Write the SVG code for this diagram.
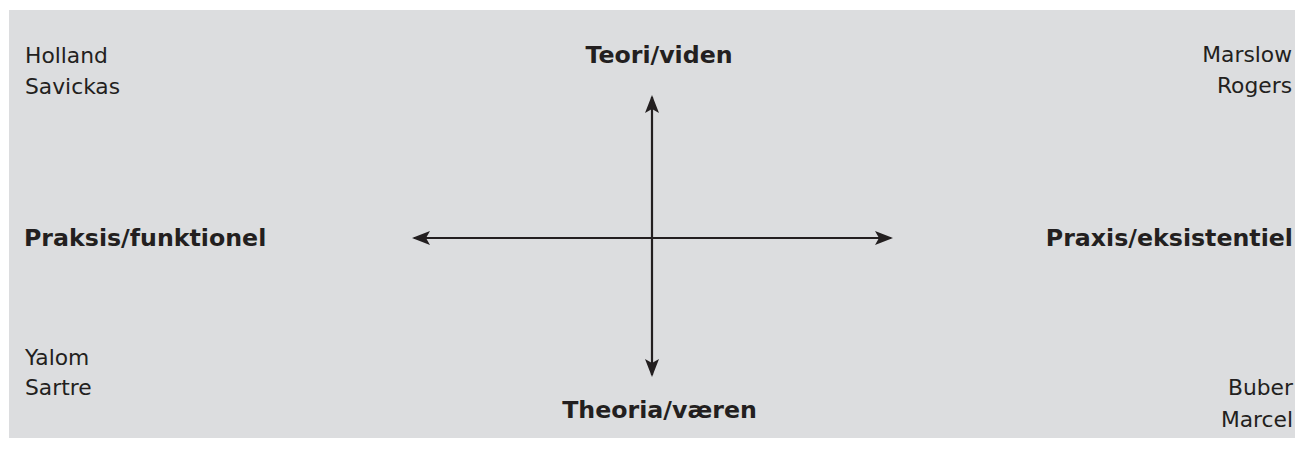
<svg xmlns="http://www.w3.org/2000/svg" width="1295" height="450" viewBox="0 0 1295 450">
<style>
.n{font-family:"DejaVu Sans","Liberation Sans",sans-serif;font-size:21.8px;fill:#231f20}
.b{font-family:"DejaVu Sans","Liberation Sans",sans-serif;font-size:23.7px;font-weight:bold;fill:#231f20}
.ax{stroke:#231f20;stroke-width:2.2;fill:none}
</style>
<defs>
<marker id="ah" viewBox="0 0 18 14" refX="16" refY="7" markerWidth="18" markerHeight="14" markerUnits="userSpaceOnUse" orient="auto-start-reverse">
<path d="M0,0 L18,7 L0,14 L4,7 Z" fill="#231f20"/>
</marker>
</defs>
<rect x="9" y="10" width="1286" height="428" fill="#dcdddf"/>
<g id="connectors">
<line class="ax" x1="652" y1="97" x2="652" y2="375" marker-start="url(#ah)" marker-end="url(#ah)"/>
<line class="ax" x1="414" y1="238" x2="891" y2="238" marker-start="url(#ah)" marker-end="url(#ah)"/>
</g>
<g id="top"><text class="b" x="659" y="63" text-anchor="middle">Teori/viden</text></g>
<g id="bottom"><text class="b" x="659.5" y="418" text-anchor="middle">Theoria/væren</text></g>
<g id="left"><text class="b" x="24" y="246">Praksis/funktionel</text></g>
<g id="right"><text class="b" x="1293" y="246" text-anchor="end">Praxis/eksistentiel</text></g>
<g id="tl"><text class="n" x="25" y="63">Holland</text><text class="n" x="25" y="94">Savickas</text></g>
<g id="tr"><text class="n" x="1292" y="62" text-anchor="end">Marslow</text><text class="n" x="1292" y="93" text-anchor="end">Rogers</text></g>
<g id="bl"><text class="n" x="25" y="365">Yalom</text><text class="n" x="25" y="395">Sartre</text></g>
<g id="br"><text class="n" x="1293" y="395" text-anchor="end">Buber</text><text class="n" x="1293" y="427" text-anchor="end">Marcel</text></g>
</svg>
